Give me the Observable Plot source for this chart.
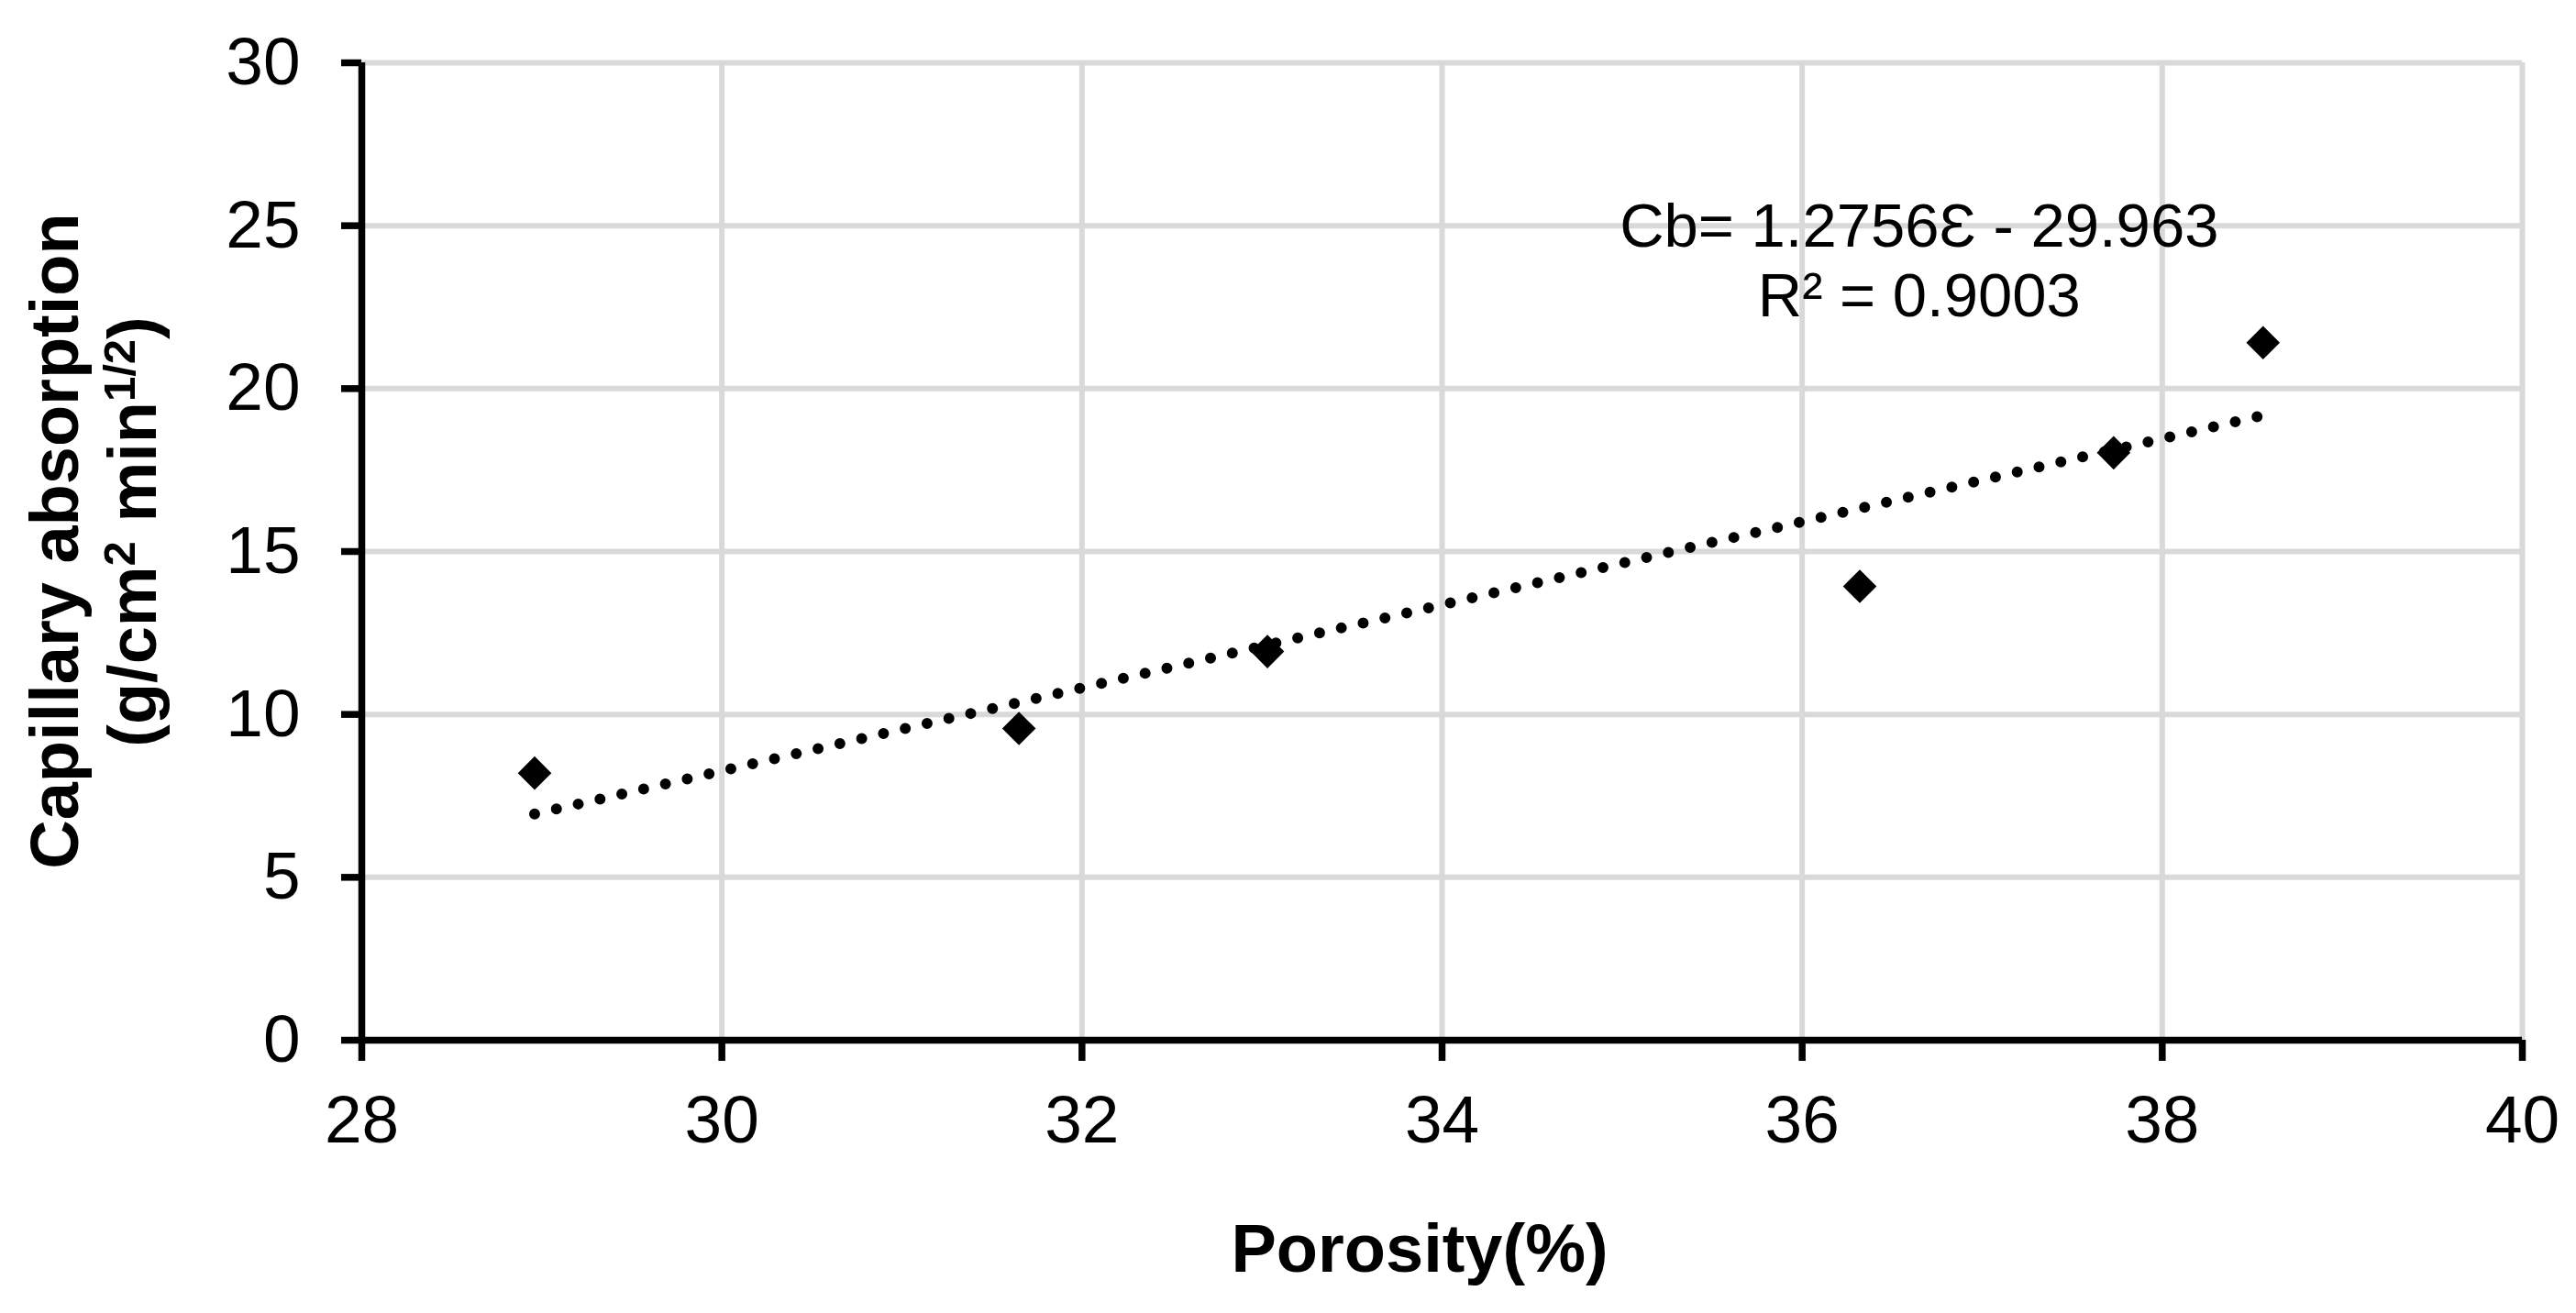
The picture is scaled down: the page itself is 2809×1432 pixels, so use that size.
<!DOCTYPE html>
<html>
<head>
<meta charset="utf-8">
<script src="https://cdn.jsdelivr.net/npm/d3@7"></script>
<script src="https://cdn.jsdelivr.net/npm/@observablehq/plot@0.6"></script>
<style>
  html, body { margin: 0; padding: 0; background: #ffffff; }
  #chart { width: 2809px; height: 1432px; }
  #chart svg { display: block; }
</style>
</head>
<body>
<div id="chart"></div>
<script>
// ---- data ----
const porosity   = [28.96, 31.65, 33.03, 36.32, 37.73, 38.56];
const absorption = [8.20, 9.57, 11.93, 13.93, 18.03, 21.41];
const xTicks = [28, 30, 32, 34, 36, 38, 40];
const yTicks = [0, 5, 10, 15, 20, 25, 30];
const equationLines = ["Cb= 1.2756Ɛ - 29.963", "R² = 0.9003"];
const equationAt = [{x: 36.65, y: 23.97}];
const xTitle = "Porosity(%)";
const yTitleLine1 = "Capillary absorption";
const yTitleLine2 = [
  {t: "(g/cm", sup: false},
  {t: "2", sup: true},
  {t: " min", sup: false},
  {t: "1/2", sup: true},
  {t: ")", sup: false}
];

const data = porosity.map((x, i) => ({x, y: absorption[i]}));

// ---- layout ----
const W = 2809, H = 1432;
const FONT = "'Liberation Sans', Arial, Helvetica, sans-serif";

const chart = Plot.plot({
  width: W,
  height: H,
  marginLeft: 394,
  marginRight: 59,
  marginTop: 68,
  marginBottom: 298,
  style: {fontFamily: FONT, background: "#ffffff", color: "#000000", overflow: "visible"},
  x: {domain: [28, 40]},
  y: {domain: [0, 30]},
  marks: [
    Plot.gridX(xTicks, {stroke: "#d9d9d9", strokeOpacity: 1, strokeWidth: 6}),
    Plot.gridY(yTicks, {stroke: "#d9d9d9", strokeOpacity: 1, strokeWidth: 6}),
    Plot.ruleY([0], {stroke: "#000000", strokeWidth: 7.5}),
    Plot.ruleX([28], {stroke: "#000000", strokeWidth: 7.5}),
    Plot.axisX(xTicks, {tickSize: 23, tickPadding: 37, strokeWidth: 7.5, fontSize: 73, label: null, fill: "#000", tickFormat: d => String(d)}),
    Plot.axisY(yTicks, {tickSize: 22, tickPadding: 45, strokeWidth: 7.5, fontSize: 73, label: null, fill: "#000", tickFormat: d => String(d)}),
    Plot.dot(data, {x: "x", y: "y", symbol: "diamond2", r: 16.5, fill: "#000000", stroke: null}),
    Plot.linearRegressionY(data, {
      x: "x", y: "y", ci: 0,
      stroke: "#000000", strokeWidth: 12,
      strokeDasharray: "0 24.4", strokeLinecap: "round"
    }),
    Plot.text(equationAt, {
      x: "x", y: "y",
      text: () => equationLines.join("\n"),
      fontSize: 67, lineHeight: 1.13, textAnchor: "middle", fill: "#000000"
    })
  ]
});

document.getElementById("chart").appendChild(chart);

// ---- axis titles (real text, with superscripts) ----
const svg = d3.select(chart);

svg.append("text")
  .attr("x", 1548).attr("y", 1387)
  .attr("text-anchor", "middle")
  .attr("font-family", FONT)
  .attr("font-weight", "bold")
  .attr("font-size", 74)
  .attr("fill", "#000")
  .text(xTitle);

svg.append("text")
  .attr("transform", "translate(85,590) rotate(-90)")
  .attr("text-anchor", "middle")
  .attr("font-family", FONT)
  .attr("font-weight", "bold")
  .attr("font-size", 74)
  .attr("fill", "#000")
  .text(yTitleLine1);

const t2 = svg.append("text")
  .attr("transform", "translate(170,580) rotate(-90)")
  .attr("text-anchor", "middle")
  .attr("font-family", FONT)
  .attr("font-weight", "bold")
  .attr("font-size", 74)
  .attr("fill", "#000");
let raised = false;
for (const part of yTitleLine2) {
  const ts = t2.append("tspan").text(part.t);
  if (part.sup && !raised) { ts.attr("font-size", 49).attr("dy", -23); raised = true; }
  else if (part.sup && raised) { ts.attr("font-size", 49); }
  else if (!part.sup && raised) { ts.attr("dy", 23); raised = false; }
}
</script>
</body>
</html>
